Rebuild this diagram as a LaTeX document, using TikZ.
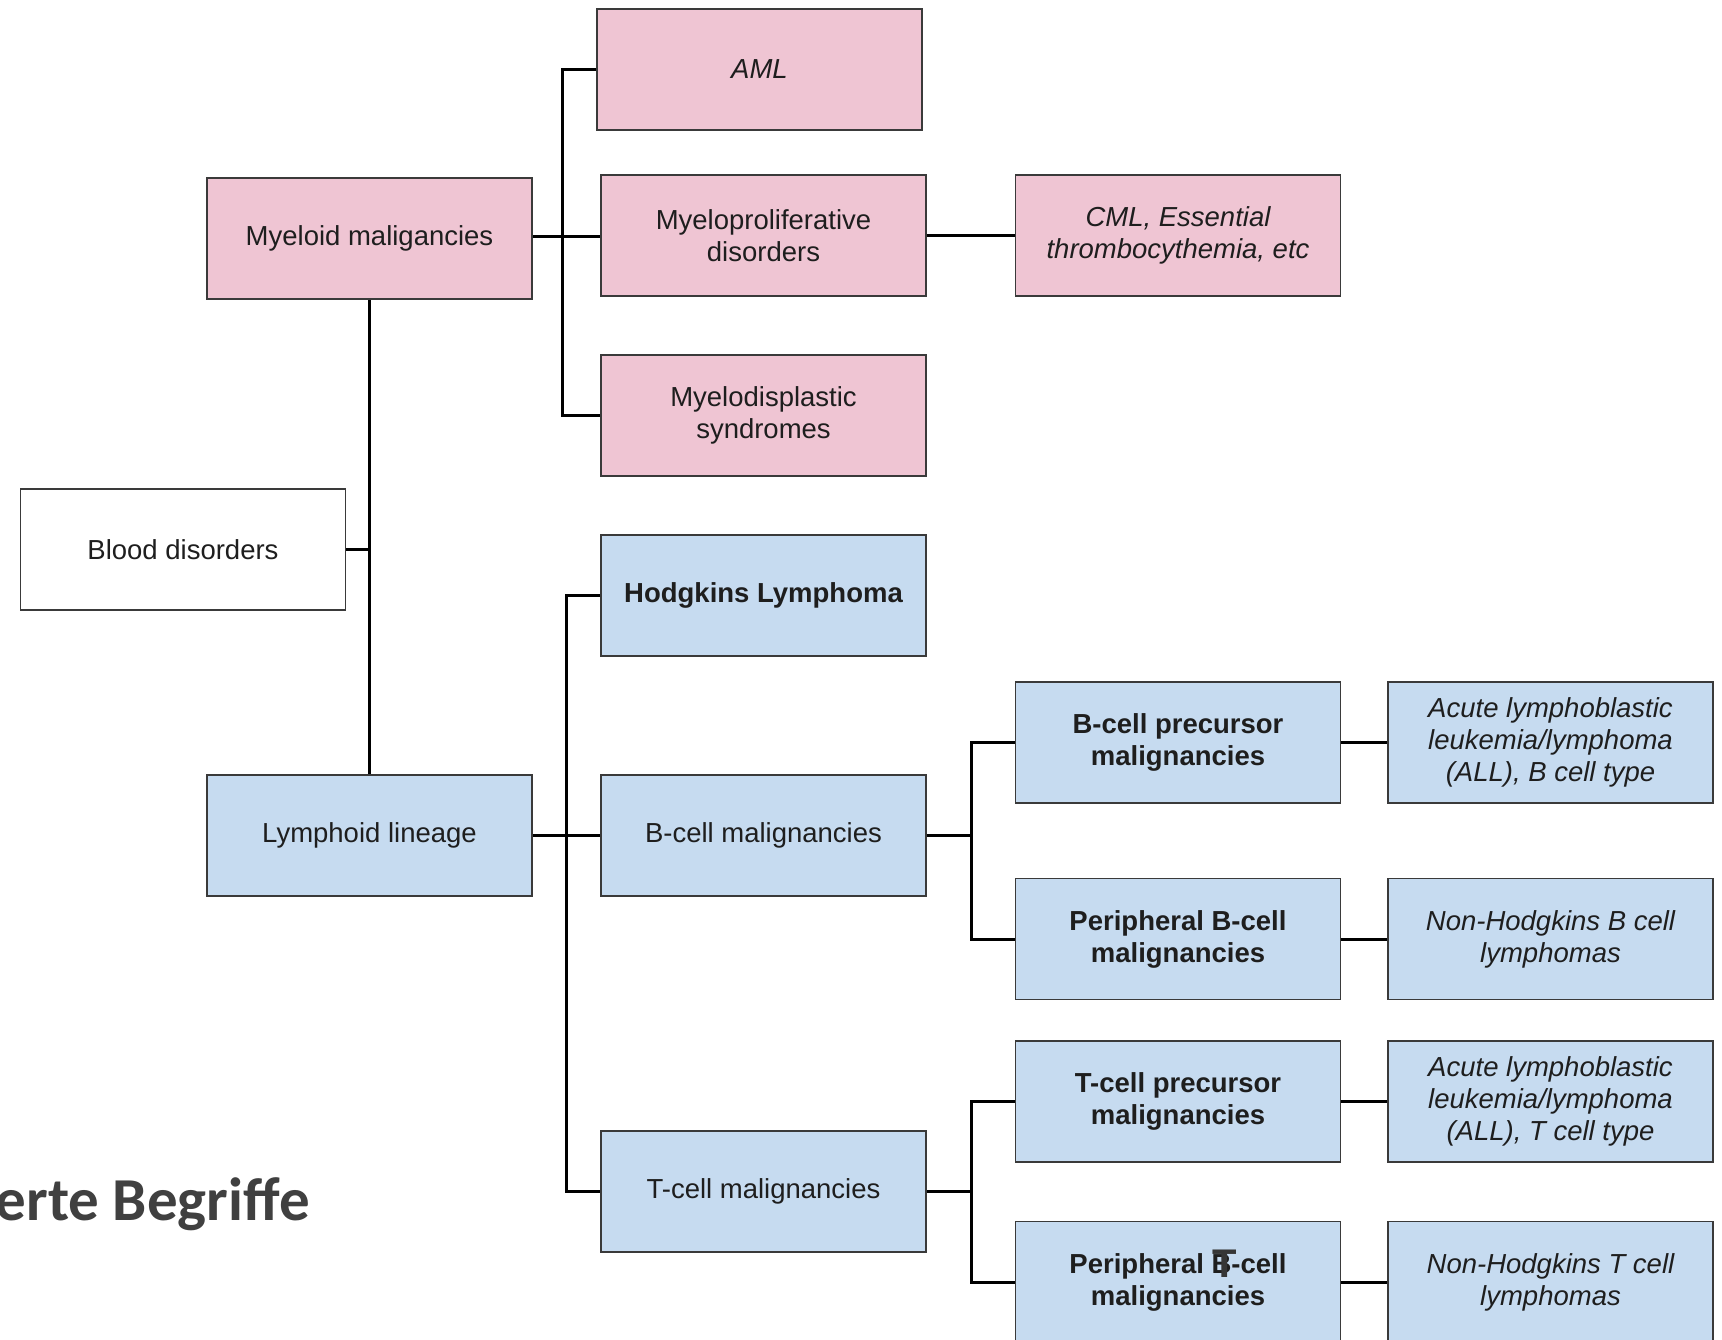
\documentclass[tikz,border=0pt]{standalone}
\usepackage{fontspec}
\setmainfont{Liberation Sans}
\newfontfamily\carlito{Carlito}
\definecolor{pinkbox}{HTML}{EFC5D3}
\definecolor{bluebox}{HTML}{C6DBF0}
\definecolor{edgegray}{HTML}{3A3A3A}
\definecolor{txt}{HTML}{1E1E1E}
\definecolor{titlegray}{HTML}{404040}
\tikzset{
  box/.style={draw=edgegray, line width=1.6pt, minimum width=325pt, minimum height=121pt,
    inner sep=0pt, align=center, text=txt, font=\fontsize{27.5}{32}\selectfont},
  pbox/.style={box, fill=pinkbox},
  bbox/.style={box, fill=bluebox},
  wbox/.style={box, fill=white},
  conn/.style={draw=black, line width=3pt}
}
\begin{document}
\begin{tikzpicture}[x=1pt,y=-1pt]
\useasboundingbox[fill=white] (0,0) rectangle (1722,1340);
% nodes
\node[pbox] (aml) at (759.5,69.5) {\itshape AML};
\node[pbox] (myeloid) at (369.5,238.5) {Myeloid maligancies};
\node[pbox] (mpd) at (763.5,235.5) {Myeloproliferative\\disorders};
\node[pbox] (cml) at (1178,235.5) {\itshape CML, Essential\\\itshape thrombocythemia, etc};
\node[pbox] (mds) at (763.5,415.5) {Myelodisplastic\\syndromes};
\node[wbox] (blood) at (183,549.5) {Blood disorders};
\node[bbox] (hodg) at (763.5,595.5) {\bfseries Hodgkins Lymphoma};
\node[bbox] (lymph) at (369.5,835.5) {Lymphoid lineage};
\node[bbox] (bcell) at (763.5,835.5) {B-cell malignancies};
\node[bbox] (bpre) at (1178,742.5) {\bfseries B-cell precursor\\\bfseries malignancies};
\node[bbox] (allb) at (1550.5,742.5) {\itshape Acute lymphoblastic\\\itshape leukemia/lymphoma\\\itshape (ALL), B cell type};
\node[bbox] (perb) at (1178,939) {\bfseries Peripheral B-cell\\\bfseries malignancies};
\node[bbox] (nhb) at (1550.5,939) {\itshape Non-Hodgkins B cell\\\itshape lymphomas};
\node[bbox] (tpre) at (1178,1101.5) {\bfseries T-cell precursor\\\bfseries malignancies};
\node[bbox] (allt) at (1550.5,1101.5) {\itshape Acute lymphoblastic\\\itshape leukemia/lymphoma\\\itshape (ALL), T cell type};
\node[bbox] (tcell) at (763.5,1191.5) {T-cell malignancies};
\node[bbox] (pert) at (1178,1282) {\bfseries Peripheral B-cell\\\bfseries malignancies};
\node[bbox] (nht) at (1550.5,1282) {\itshape Non-Hodgkins T cell\\\itshape lymphomas};
\node[anchor=base, inner sep=0pt, text=titlegray!85!black, font=\fontsize{40}{40}\selectfont\bfseries] (tover) at (1224.5,1277) {T};
\node[anchor=base east, inner sep=0pt, text=titlegray, font=\fontsize{61}{61}\selectfont\carlito\bfseries] (title) at (310,1220) {Strukturierte Begriffe};
% junctions
\coordinate (jm) at (562,236.5);
\coordinate (jl) at (566,835.5);
\coordinate (jb) at (971,835.5);
\coordinate (jt) at (971,1191.5);
% myeloid group
\draw[conn] (myeloid.east |- jm) -- (mpd.west |- jm);
\draw[conn] (aml.west) -- (aml.west -| jm) -- (mds.west -| jm) -- (mds.west);
\draw[conn] (mpd.east) -- (cml.west);
% root
\draw[conn] (myeloid.south) -- (lymph.north);
\draw[conn] (blood.east) -- (blood.east -| myeloid.south);
% lymphoid group
\draw[conn] (lymph.east) -- (bcell.west);
\draw[conn] (hodg.west) -- (hodg.west -| jl) -- (tcell.west -| jl) -- (tcell.west);
% B-cell group
\draw[conn] (bcell.east) -- (jb);
\draw[conn] (bpre.west) -- (bpre.west -| jb) -- (perb.west -| jb) -- (perb.west);
\draw[conn] (bpre.east) -- (allb.west);
\draw[conn] (perb.east) -- (nhb.west);
% T-cell group
\draw[conn] (tcell.east) -- (jt);
\draw[conn] (tpre.west) -- (tpre.west -| jt) -- (pert.west -| jt) -- (pert.west);
\draw[conn] (tpre.east) -- (allt.west);
\draw[conn] (pert.east) -- (nht.west);
\end{tikzpicture}
\end{document}
